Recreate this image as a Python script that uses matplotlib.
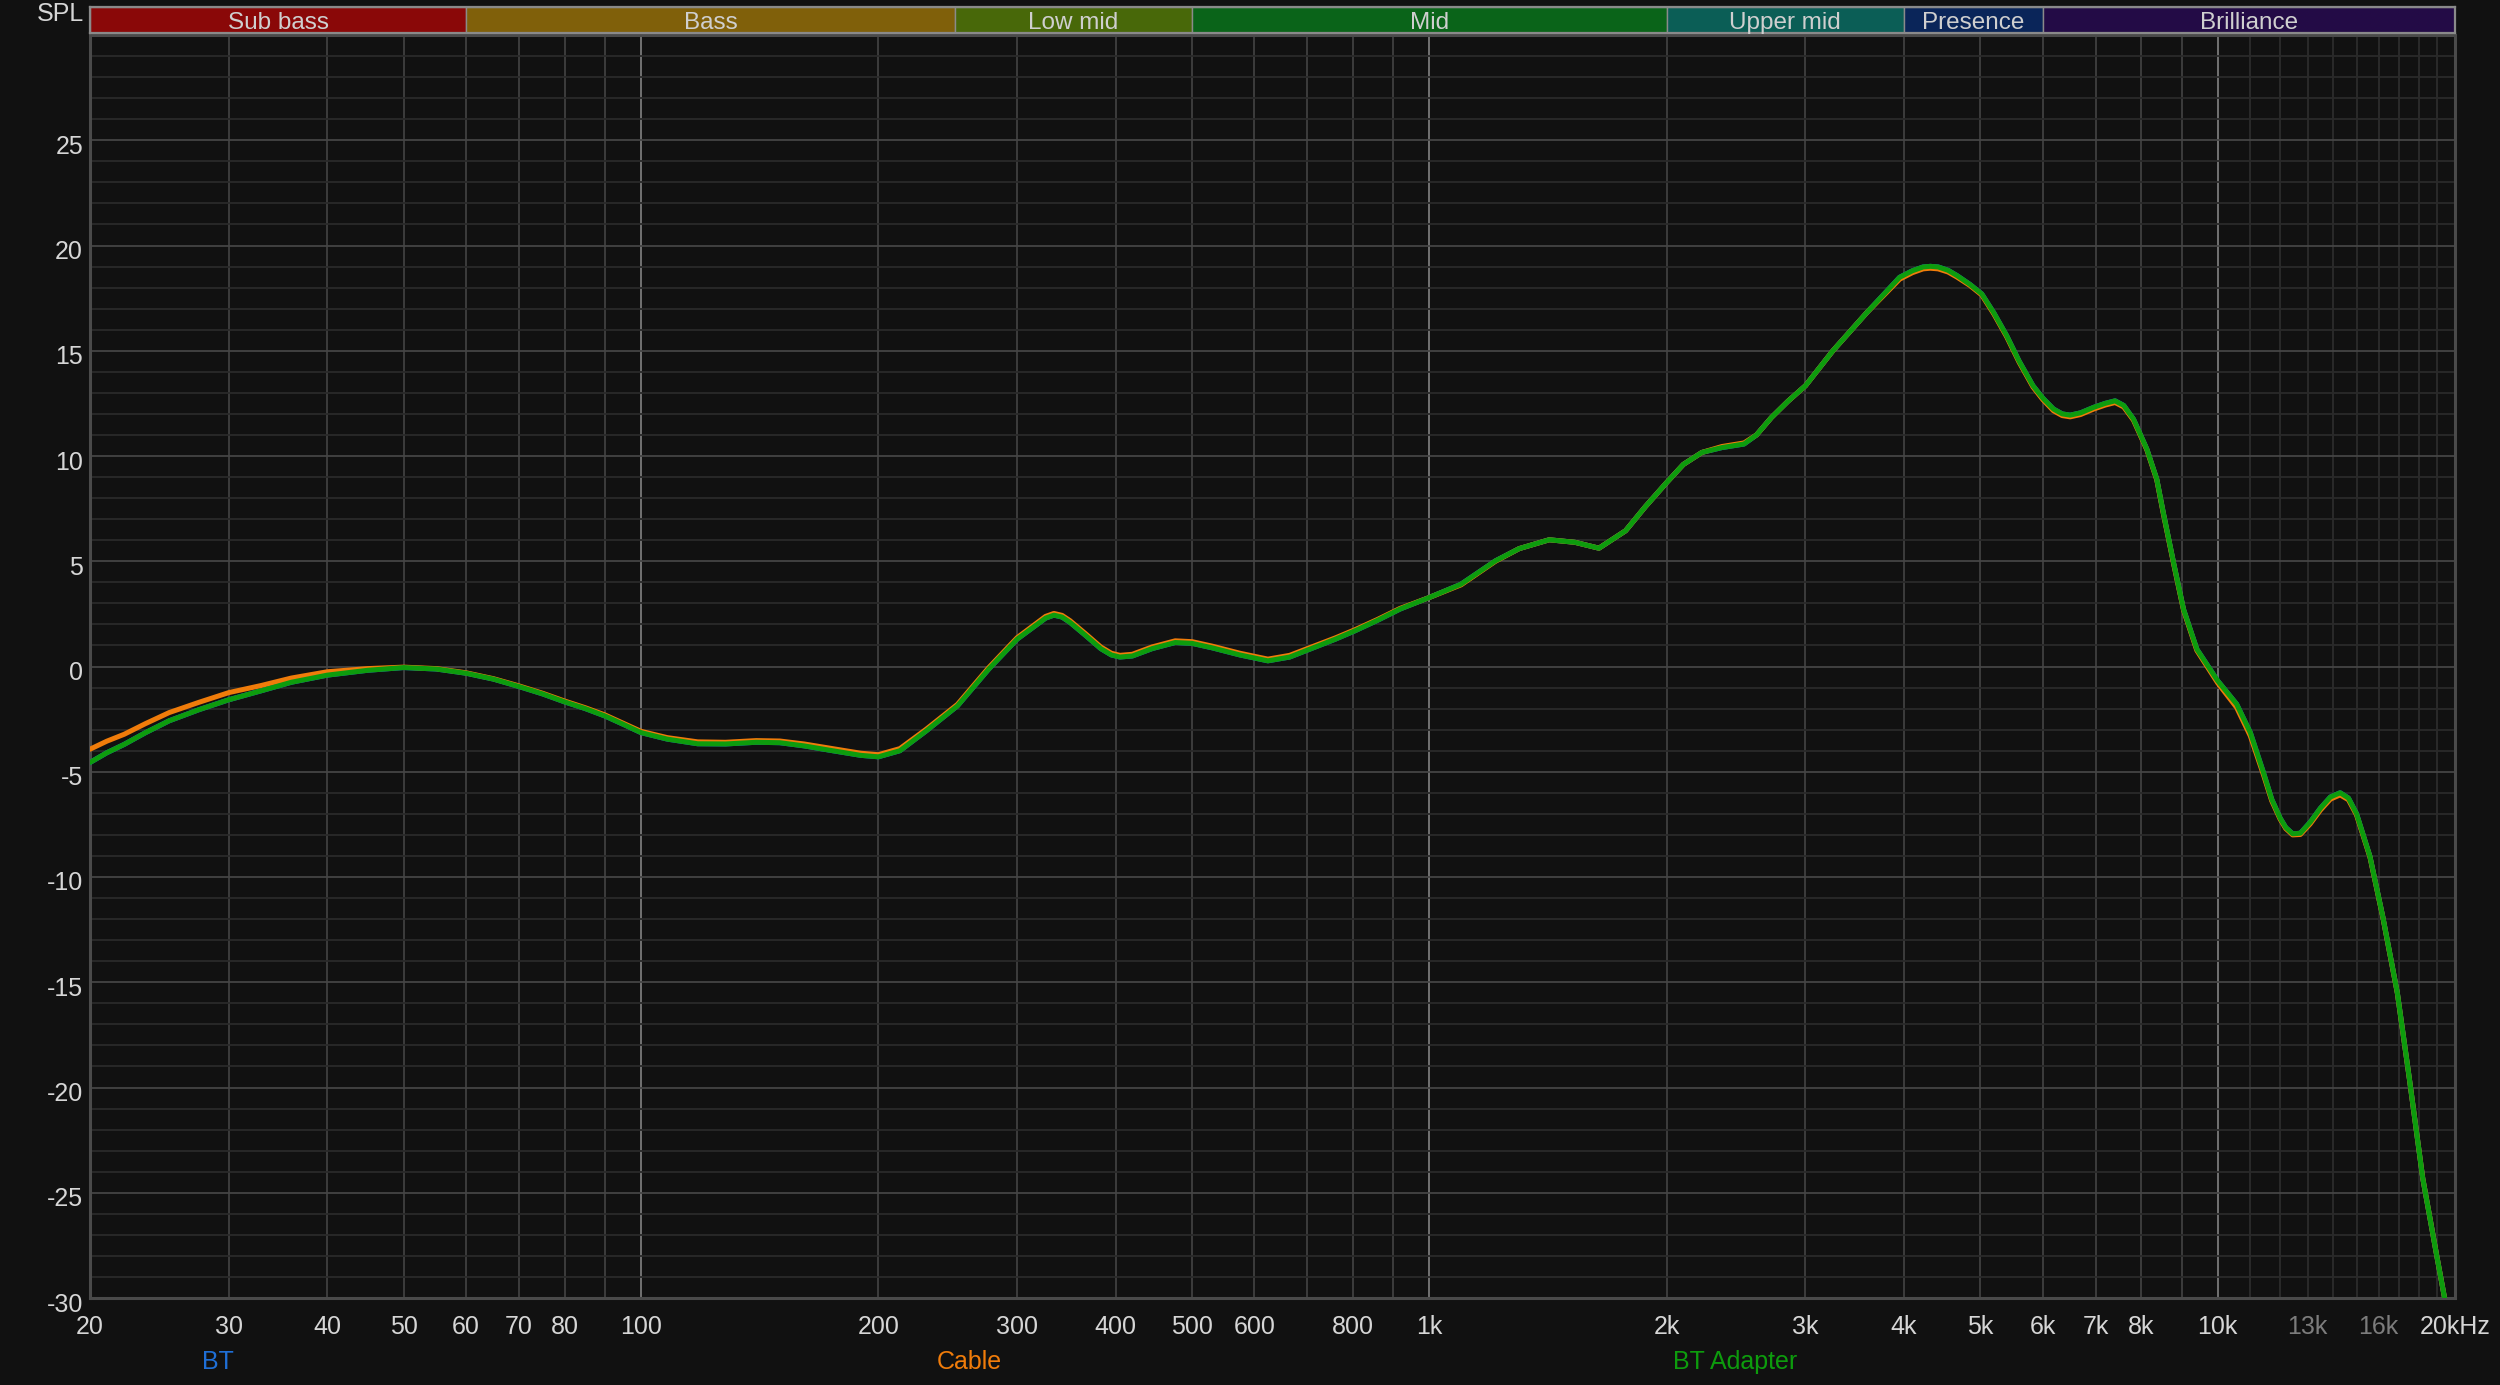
import matplotlib
matplotlib.use("Agg")
import matplotlib.pyplot as plt
import matplotlib.transforms as mtrans
from matplotlib.ticker import NullLocator, FixedLocator

# ---------------- data ----------------
freq_hz = [20, 21, 22.1, 23.5, 25.2, 27.5, 30, 33, 36, 40, 45, 50, 55, 60, 65, 70, 75, 80,
           85, 90, 95, 100, 108, 118, 128, 140, 150, 161, 175, 190, 200, 213, 230, 252,
           276, 300, 318, 326, 334, 342, 350, 366, 383, 395, 405, 420, 445, 476, 500, 530,
           575, 624, 665, 714, 760, 805, 860, 918, 1000, 1097, 1213, 1300, 1419, 1530,
           1641, 1774, 1880, 2000, 2100, 2217, 2350, 2507, 2600, 2716, 2850, 3000, 3250,
           3590, 3950, 4100, 4230, 4320, 4420, 4550, 4670, 4850, 5020, 5200, 5400, 5600,
           5830, 6000, 6190, 6350, 6500, 6700, 6960, 7200, 7410, 7600, 7820, 8130, 8370,
           8530, 8790, 9050, 9410, 10000, 10570, 11000, 11430, 11710, 12000, 12200, 12450,
           12730, 13100, 13500, 13900, 14300, 14650, 15000, 15600, 16200, 16900, 17500,
           18200, 18970, 19400, 20000]

bt_adapter_db = [-4.56, -4.10, -3.70, -3.15, -2.58, -2.05, -1.58, -1.15, -0.75, -0.41, -0.18,
                 -0.05, -0.12, -0.32, -0.60, -0.95, -1.30, -1.68, -2.00, -2.35, -2.75, -3.14,
                 -3.45, -3.67, -3.68, -3.60, -3.62, -3.77, -4.00, -4.22, -4.29, -4.00, -3.06,
                 -1.87, -0.13, 1.30, 2.00, 2.30, 2.44, 2.35, 2.10, 1.49, 0.85, 0.55, 0.45,
                 0.50, 0.85, 1.14, 1.10, 0.89, 0.55, 0.27, 0.45, 0.90, 1.30, 1.70, 2.20, 2.73,
                 3.28, 3.91, 5.02, 5.60, 6.02, 5.90, 5.62, 6.45, 7.60, 8.74, 9.60, 10.17,
                 10.40, 10.57, 11.00, 11.83, 12.60, 13.34, 15.00, 16.82, 18.49, 18.80, 18.98,
                 19.01, 18.98, 18.82, 18.57, 18.15, 17.70, 16.80, 15.71, 14.50, 13.34, 12.75,
                 12.23, 12.00, 11.94, 12.05, 12.31, 12.50, 12.62, 12.40, 11.75, 10.33, 8.90,
                 7.32, 4.94, 2.72, 0.82, -0.68, -1.79, -3.14, -5.04, -6.31, -7.20, -7.65,
                 -7.95, -7.92, -7.40, -6.73, -6.20, -6.00, -6.25, -6.99, -9.02, -11.90, -15.50,
                 -19.55, -24.30, -28.03, -30.00, -32.00]

cable_db = [-3.93, -3.55, -3.22, -2.72, -2.19, -1.70, -1.24, -0.90, -0.55, -0.25, -0.10,
            -0.03, -0.10, -0.30, -0.58, -0.92, -1.27, -1.64, -1.96, -2.30, -2.70, -3.08,
            -3.38, -3.58, -3.60, -3.52, -3.54, -3.68, -3.90, -4.12, -4.19, -3.90, -2.98,
            -1.80, -0.06, 1.37, 2.08, 2.38, 2.52, 2.43, 2.18, 1.57, 0.93, 0.63, 0.53,
            0.58, 0.93, 1.22, 1.18, 0.97, 0.63, 0.35, 0.53, 0.97, 1.36, 1.75, 2.24, 2.76,
            3.28, 3.88, 5.00, 5.60, 6.02, 5.90, 5.62, 6.45, 7.60, 8.74, 9.60, 10.17,
            10.45, 10.62, 11.00, 11.83, 12.60, 13.34, 15.00, 16.82, 18.40, 18.71, 18.89,
            18.92, 18.89, 18.74, 18.50, 18.10, 17.65, 16.75, 15.66, 14.45, 13.28, 12.68,
            12.15, 11.92, 11.86, 11.97, 12.23, 12.42, 12.54, 12.33, 11.70, 10.30, 8.87,
            7.28, 4.90, 2.68, 0.76, -0.78, -1.95, -3.30, -5.14, -6.38, -7.25, -7.70,
            -8.00, -7.98, -7.48, -6.82, -6.30, -6.10, -6.33, -7.05, -9.05, -11.92, -15.52,
            -19.56, -24.30, -28.03, -30.00, -32.00]

# BT trace lies hidden underneath the BT Adapter trace in the reference
bt_db = bt_adapter_db

series_names = ["BT", "Cable", "BT Adapter"]
series_colors = ["#1f6fd6", "#f07c0a", "#0d9c0d"]

x_tick_values = [20, 30, 40, 50, 60, 70, 80, 100, 200, 300, 400, 500, 600, 800, 1000,
                 2000, 3000, 4000, 5000, 6000, 7000, 8000, 10000, 13000, 16000, 20000]
x_tick_labels = ["20", "30", "40", "50", "60", "70", "80", "100", "200", "300", "400",
                 "500", "600", "800", "1k", "2k", "3k", "4k", "5k", "6k", "7k", "8k",
                 "10k", "13k", "16k", "20kHz"]
y_tick_values = [-30, -25, -20, -15, -10, -5, 0, 5, 10, 15, 20, 25]

band_names = ["Sub bass", "Bass", "Low mid", "Mid", "Upper mid", "Presence", "Brilliance"]
band_edges = [20, 60, 250, 500, 2000, 4000, 6000, 20000]
band_colors = ["#8a0808", "#80600a", "#486809", "#0a6419", "#0b5e56", "#0a2559", "#230b46"]

# ---------------- style ----------------
BG = "#111111"
TXT = "#d6d6d6"
FONT = ["Liberation Sans Narrow", "Liberation Sans", "DejaVu Sans"]
plt.rcParams["font.family"] = FONT
plt.rcParams["axes.unicode_minus"] = False

W, H = 2500, 1385
fig = plt.figure(figsize=(W / 100, H / 100), dpi=100, facecolor=BG)

L, R, T, B = 90, 2455, 35, 1298
ax = fig.add_axes([L / W, 1 - B / H, (R - L) / W, (B - T) / H])
ax.set_facecolor(BG)
ax.set_xscale("log")
ax.set_xlim(20, 20000)
ax.set_ylim(-30, 30)

# grid
xt = ax.get_xaxis_transform()
decade_lines = [100, 1000, 10000]
mid_lines = [30, 40, 50, 60, 70, 80, 90, 200, 300, 400, 500, 600, 700, 800, 900,
             2000, 3000, 4000, 5000, 6000, 7000, 8000, 9000]
fine_lines = [11000, 12000, 13000, 14000, 15000, 16000, 17000, 18000, 19000]
ax.vlines(fine_lines, 0, 1, transform=xt, colors="#2c2c2c", lw=1.3, zorder=1)
ax.vlines(mid_lines, 0, 1, transform=xt, colors="#404040", lw=1.3, zorder=1)
ax.vlines(decade_lines, 0, 1, transform=xt, colors="#7a7a7a", lw=1.3, zorder=1)
ax.hlines([v for v in range(-29, 30) if v % 5 != 0], 20, 20000, colors="#2a2a2a", lw=1.3, zorder=1)
ax.hlines([v for v in range(-25, 30, 5)], 20, 20000, colors="#454545", lw=1.3, zorder=1)

# traces
for vals, col, z in ((bt_db, series_colors[0], 3), (cable_db, series_colors[1], 4),
                     (bt_adapter_db, series_colors[2], 5)):
    ax.plot(freq_hz, vals, color=col, lw=3.6, zorder=z,
            solid_joinstyle="round", solid_capstyle="round")

for s in ax.spines.values():
    s.set_color("#4a4a4a")
    s.set_linewidth(2.2)

ax.xaxis.set_major_locator(FixedLocator(x_tick_values))
ax.xaxis.set_minor_locator(NullLocator())
ax.set_xticklabels(x_tick_labels)
ax.set_yticks(y_tick_values)
ax.set_yticklabels([str(v) for v in y_tick_values])
ax.tick_params(axis="both", length=0, labelsize=18, labelcolor=TXT)
ax.tick_params(axis="x", pad=12)
ax.tick_params(axis="y", pad=5)
for lbl, txt in zip(ax.get_xticklabels(), x_tick_labels):
    if txt in ("13k", "16k"):
        lbl.set_color("#7c7c7c")
off = mtrans.ScaledTranslation(0, -4 / 100, fig.dpi_scale_trans)
for lbl in ax.get_yticklabels():
    lbl.set_transform(lbl.get_transform() + off)

# band strip
BT_, BB_ = 6.5, 32.5
bax = fig.add_axes([L / W, 1 - BB_ / H, (R - L) / W, (BB_ - BT_) / H])
bax.set_xscale("log")
bax.set_xlim(20, 20000)
bax.set_ylim(0, 1)
bax.set_facecolor(BG)
for i, name in enumerate(band_names):
    lo, hi = band_edges[i], band_edges[i + 1]
    bax.axvspan(lo, hi, facecolor=band_colors[i], edgecolor="#8a8a8a", lw=1.0)
    bax.text((lo * hi) ** 0.5, 0.38, name, ha="center", va="center",
             fontsize=17.5, color="#cfcfcf")
bax.xaxis.set_major_locator(NullLocator())
bax.xaxis.set_minor_locator(NullLocator())
bax.yaxis.set_major_locator(NullLocator())
for s in bax.spines.values():
    s.set_color("#8a8a8a")
    s.set_linewidth(1.6)

fig.text(84 / W, 1 - 14 / H, "SPL", ha="right", va="center", fontsize=18, color=TXT)

# legend labels
legend_x = [218, 969, 1735]
for name, col, xp in zip(series_names, series_colors, legend_x):
    fig.text(xp / W, 1 - 1362 / H, name, ha="center", va="center", fontsize=18, color=col)

fig.savefig("out.png", dpi=100, facecolor=BG)
